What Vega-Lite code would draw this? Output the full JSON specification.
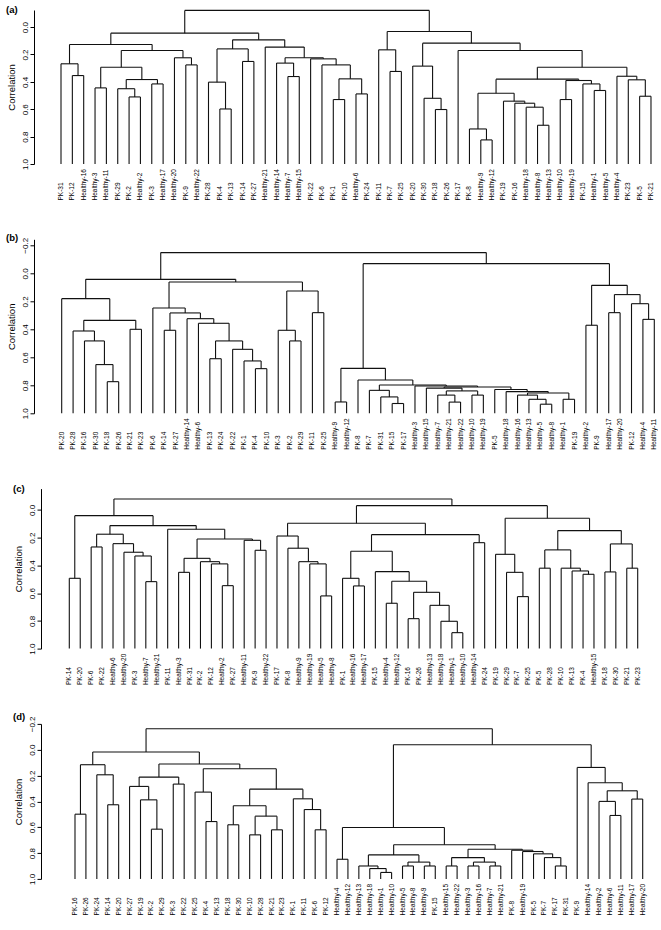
{
"$schema": "https://vega.github.io/schema/vega-lite/v6.json",
"padding": {"left": 6, "top": 5, "right": 0, "bottom": 0},
"config": {
 "view": {"stroke": null},
 "font": "Liberation Sans",
 "axis": {"domainColor": "#000", "tickColor": "#000", "labelColor": "#000", "titleColor": "#000", "labelFont": "Liberation Sans", "titleFont": "Liberation Sans", "labelFontSize": 8, "titleFontSize": 9.5, "titleFontWeight": "normal", "tickSize": 4, "labelPadding": 1, "titlePadding": 5, "grid": false, "domainWidth": 1, "tickWidth": 1, "format": ".1f", "labelOverlap": false, "labelFlush": false, "labelBound": false, "labelSeparation": -30},
 "title": {"font": "Liberation Sans", "fontSize": 9.5, "fontWeight": "bold", "anchor": "start", "frame": "bounds", "offset": -5, "color": "#000"},
 "rule": {"color": "#111", "strokeWidth": 1.1},
 "text": {"color": "#000", "font": "Liberation Sans", "fontSize": 6.5}
},
"datasets": {
 "merges_a": [
  {"lx":2,"lh":1,"rx":3,"rh":1,"h":0.354},
  {"lx":1,"lh":1,"rx":2.5,"rh":0.354,"h":0.268},
  {"lx":4,"lh":1,"rx":5,"rh":1,"h":0.444},
  {"lx":7,"lh":1,"rx":8,"rh":1,"h":0.51},
  {"lx":6,"lh":1,"rx":7.5,"rh":0.51,"h":0.45},
  {"lx":9,"lh":1,"rx":10,"rh":1,"h":0.415},
  {"lx":6.75,"lh":0.45,"rx":9.5,"rh":0.415,"h":0.383},
  {"lx":4.5,"lh":0.444,"rx":8.125,"rh":0.383,"h":0.293},
  {"lx":12,"lh":1,"rx":13,"rh":1,"h":0.276},
  {"lx":11,"lh":1,"rx":12.5,"rh":0.276,"h":0.224},
  {"lx":6.313,"lh":0.293,"rx":11.75,"rh":0.224,"h":0.171},
  {"lx":1.75,"lh":0.268,"rx":9.031,"rh":0.171,"h":0.127},
  {"lx":15,"lh":1,"rx":16,"rh":1,"h":0.598},
  {"lx":14,"lh":1,"rx":15.5,"rh":0.598,"h":0.402},
  {"lx":17,"lh":1,"rx":18,"rh":1,"h":0.251},
  {"lx":14.75,"lh":0.402,"rx":17.5,"rh":0.251,"h":0.159},
  {"lx":21,"lh":1,"rx":22,"rh":1,"h":0.361},
  {"lx":20,"lh":1,"rx":21.5,"rh":0.361,"h":0.263},
  {"lx":25,"lh":1,"rx":26,"rh":1,"h":0.529},
  {"lx":27,"lh":1,"rx":28,"rh":1,"h":0.488},
  {"lx":25.5,"lh":0.529,"rx":27.5,"rh":0.488,"h":0.378},
  {"lx":24,"lh":1,"rx":26.5,"rh":0.378,"h":0.276},
  {"lx":23,"lh":1,"rx":25.25,"rh":0.276,"h":0.232},
  {"lx":20.75,"lh":0.263,"rx":24.125,"rh":0.232,"h":0.224},
  {"lx":19,"lh":1,"rx":22.438,"rh":0.224,"h":0.146},
  {"lx":16.125,"lh":0.159,"rx":20.719,"rh":0.146,"h":0.093},
  {"lx":5.391,"lh":0.127,"rx":18.422,"rh":0.093,"h":0.044},
  {"lx":30,"lh":1,"rx":31,"rh":1,"h":0.324},
  {"lx":29,"lh":1,"rx":30.5,"rh":0.324,"h":0.166},
  {"lx":34,"lh":1,"rx":35,"rh":1,"h":0.602},
  {"lx":33,"lh":1,"rx":34.5,"rh":0.602,"h":0.52},
  {"lx":32,"lh":1,"rx":33.75,"rh":0.52,"h":0.285},
  {"lx":38,"lh":1,"rx":39,"rh":1,"h":0.824},
  {"lx":37,"lh":1,"rx":38.5,"rh":0.824,"h":0.744},
  {"lx":43,"lh":1,"rx":44,"rh":1,"h":0.717},
  {"lx":42,"lh":1,"rx":43.5,"rh":0.717,"h":0.585},
  {"lx":41,"lh":1,"rx":42.75,"rh":0.585,"h":0.556},
  {"lx":40,"lh":1,"rx":41.875,"rh":0.556,"h":0.541},
  {"lx":37.75,"lh":0.744,"rx":40.938,"rh":0.541,"h":0.483},
  {"lx":45,"lh":1,"rx":46,"rh":1,"h":0.529},
  {"lx":48,"lh":1,"rx":49,"rh":1,"h":0.463},
  {"lx":47,"lh":1,"rx":48.5,"rh":0.463,"h":0.415},
  {"lx":45.5,"lh":0.529,"rx":47.75,"rh":0.415,"h":0.39},
  {"lx":39.344,"lh":0.483,"rx":46.625,"rh":0.39,"h":0.38},
  {"lx":52,"lh":1,"rx":53,"rh":1,"h":0.505},
  {"lx":51,"lh":1,"rx":52.5,"rh":0.505,"h":0.385},
  {"lx":50,"lh":1,"rx":51.75,"rh":0.385,"h":0.359},
  {"lx":42.984,"lh":0.38,"rx":50.875,"rh":0.359,"h":0.293},
  {"lx":36,"lh":1,"rx":46.93,"rh":0.293,"h":0.171},
  {"lx":32.875,"lh":0.285,"rx":41.465,"rh":0.171,"h":0.117},
  {"lx":29.75,"lh":0.166,"rx":37.17,"rh":0.117,"h":0.032},
  {"lx":11.906,"lh":0.044,"rx":33.46,"rh":0.032,"h":-0.122}
 ],
 "merges_b": [
  {"lx":5,"lh":1,"rx":6,"rh":1,"h":0.774},
  {"lx":4,"lh":1,"rx":5.5,"rh":0.774,"h":0.652},
  {"lx":3,"lh":1,"rx":4.75,"rh":0.652,"h":0.483},
  {"lx":2,"lh":1,"rx":3.875,"rh":0.483,"h":0.412},
  {"lx":7,"lh":1,"rx":8,"rh":1,"h":0.4},
  {"lx":2.938,"lh":0.412,"rx":7.5,"rh":0.4,"h":0.336},
  {"lx":1,"lh":1,"rx":5.219,"rh":0.336,"h":0.181},
  {"lx":10,"lh":1,"rx":11,"rh":1,"h":0.407},
  {"lx":14,"lh":1,"rx":15,"rh":1,"h":0.61},
  {"lx":18,"lh":1,"rx":19,"rh":1,"h":0.681},
  {"lx":17,"lh":1,"rx":18.5,"rh":0.681,"h":0.626},
  {"lx":16,"lh":1,"rx":17.75,"rh":0.626,"h":0.543},
  {"lx":14.5,"lh":0.61,"rx":16.875,"rh":0.543,"h":0.483},
  {"lx":13,"lh":1,"rx":15.688,"rh":0.483,"h":0.357},
  {"lx":12,"lh":1,"rx":14.344,"rh":0.357,"h":0.324},
  {"lx":10.5,"lh":0.407,"rx":13.172,"rh":0.324,"h":0.283},
  {"lx":9,"lh":1,"rx":11.836,"rh":0.283,"h":0.248},
  {"lx":21,"lh":1,"rx":22,"rh":1,"h":0.483},
  {"lx":20,"lh":1,"rx":21.5,"rh":0.483,"h":0.407},
  {"lx":23,"lh":1,"rx":24,"rh":1,"h":0.281},
  {"lx":20.75,"lh":0.407,"rx":23.5,"rh":0.281,"h":0.126},
  {"lx":10.418,"lh":0.248,"rx":22.125,"rh":0.126,"h":0.062},
  {"lx":3.109,"lh":0.181,"rx":16.272,"rh":0.062,"h":0.043},
  {"lx":25,"lh":1,"rx":26,"rh":1,"h":0.919},
  {"lx":30,"lh":1,"rx":31,"rh":1,"h":0.93},
  {"lx":29,"lh":1,"rx":30.5,"rh":0.93,"h":0.883},
  {"lx":28,"lh":1,"rx":29.75,"rh":0.883,"h":0.836},
  {"lx":35,"lh":1,"rx":36,"rh":1,"h":0.92},
  {"lx":34,"lh":1,"rx":35.5,"rh":0.92,"h":0.87},
  {"lx":37,"lh":1,"rx":38,"rh":1,"h":0.87},
  {"lx":34.75,"lh":0.87,"rx":37.5,"rh":0.87,"h":0.84},
  {"lx":33,"lh":1,"rx":36.125,"rh":0.84,"h":0.82},
  {"lx":43,"lh":1,"rx":44,"rh":1,"h":0.935},
  {"lx":42,"lh":1,"rx":43.5,"rh":0.935,"h":0.9},
  {"lx":41,"lh":1,"rx":42.75,"rh":0.9,"h":0.87},
  {"lx":45,"lh":1,"rx":46,"rh":1,"h":0.9},
  {"lx":41.875,"lh":0.87,"rx":45.5,"rh":0.9,"h":0.855},
  {"lx":40,"lh":1,"rx":43.688,"rh":0.855,"h":0.845},
  {"lx":39,"lh":1,"rx":41.844,"rh":0.845,"h":0.83},
  {"lx":34.563,"lh":0.82,"rx":40.422,"rh":0.83,"h":0.812},
  {"lx":32,"lh":1,"rx":37.492,"rh":0.812,"h":0.805},
  {"lx":28.875,"lh":0.836,"rx":34.746,"rh":0.805,"h":0.798},
  {"lx":27,"lh":1,"rx":31.811,"rh":0.798,"h":0.762},
  {"lx":25.5,"lh":0.919,"rx":29.405,"rh":0.762,"h":0.679},
  {"lx":47,"lh":1,"rx":48,"rh":1,"h":0.371},
  {"lx":49,"lh":1,"rx":50,"rh":1,"h":0.281},
  {"lx":52,"lh":1,"rx":53,"rh":1,"h":0.329},
  {"lx":51,"lh":1,"rx":52.5,"rh":0.329,"h":0.217},
  {"lx":49.5,"lh":0.281,"rx":51.75,"rh":0.217,"h":0.152},
  {"lx":47.5,"lh":0.371,"rx":50.625,"rh":0.152,"h":0.086},
  {"lx":27.453,"lh":0.679,"rx":49.063,"rh":0.086,"h":-0.069},
  {"lx":9.69,"lh":0.043,"rx":38.258,"rh":-0.069,"h":-0.148}
 ],
 "merges_c": [
  {"lx":1,"lh":1,"rx":2,"rh":1,"h":0.493},
  {"lx":3,"lh":1,"rx":4,"rh":1,"h":0.267},
  {"lx":8,"lh":1,"rx":9,"rh":1,"h":0.517},
  {"lx":7,"lh":1,"rx":8.5,"rh":0.517,"h":0.332},
  {"lx":6,"lh":1,"rx":7.75,"rh":0.332,"h":0.305},
  {"lx":5,"lh":1,"rx":6.875,"rh":0.305,"h":0.243},
  {"lx":3.5,"lh":0.267,"rx":5.938,"rh":0.243,"h":0.175},
  {"lx":11,"lh":1,"rx":12,"rh":1,"h":0.45},
  {"lx":15,"lh":1,"rx":16,"rh":1,"h":0.546},
  {"lx":14,"lh":1,"rx":15.5,"rh":0.546,"h":0.389},
  {"lx":13,"lh":1,"rx":14.75,"rh":0.389,"h":0.373},
  {"lx":11.5,"lh":0.45,"rx":13.875,"rh":0.373,"h":0.349},
  {"lx":18,"lh":1,"rx":19,"rh":1,"h":0.291},
  {"lx":17,"lh":1,"rx":18.5,"rh":0.291,"h":0.219},
  {"lx":12.688,"lh":0.349,"rx":17.75,"rh":0.219,"h":0.209},
  {"lx":10,"lh":1,"rx":15.219,"rh":0.209,"h":0.139},
  {"lx":4.719,"lh":0.175,"rx":12.61,"rh":0.139,"h":0.113},
  {"lx":1.5,"lh":0.493,"rx":8.664,"rh":0.113,"h":0.041},
  {"lx":24,"lh":1,"rx":25,"rh":1,"h":0.62},
  {"lx":23,"lh":1,"rx":24.5,"rh":0.62,"h":0.389},
  {"lx":22,"lh":1,"rx":23.75,"rh":0.389,"h":0.373},
  {"lx":21,"lh":1,"rx":22.875,"rh":0.373,"h":0.276},
  {"lx":20,"lh":1,"rx":21.938,"rh":0.276,"h":0.188},
  {"lx":27,"lh":1,"rx":28,"rh":1,"h":0.548},
  {"lx":26,"lh":1,"rx":27.5,"rh":0.548,"h":0.493},
  {"lx":30,"lh":1,"rx":31,"rh":1,"h":0.673},
  {"lx":32,"lh":1,"rx":33,"rh":1,"h":0.784},
  {"lx":36,"lh":1,"rx":37,"rh":1,"h":0.885},
  {"lx":35,"lh":1,"rx":36.5,"rh":0.885,"h":0.803},
  {"lx":34,"lh":1,"rx":35.75,"rh":0.803,"h":0.688},
  {"lx":32.5,"lh":0.784,"rx":34.875,"rh":0.688,"h":0.594},
  {"lx":30.5,"lh":0.673,"rx":33.688,"rh":0.594,"h":0.514},
  {"lx":29,"lh":1,"rx":32.094,"rh":0.514,"h":0.445},
  {"lx":26.75,"lh":0.493,"rx":30.547,"rh":0.445,"h":0.298},
  {"lx":38,"lh":1,"rx":39,"rh":1,"h":0.236},
  {"lx":28.648,"lh":0.298,"rx":38.5,"rh":0.236,"h":0.178},
  {"lx":20.969,"lh":0.188,"rx":33.574,"rh":0.178,"h":0.096},
  {"lx":42,"lh":1,"rx":43,"rh":1,"h":0.625},
  {"lx":41,"lh":1,"rx":42.5,"rh":0.625,"h":0.45},
  {"lx":40,"lh":1,"rx":41.75,"rh":0.45,"h":0.32},
  {"lx":44,"lh":1,"rx":45,"rh":1,"h":0.42},
  {"lx":48,"lh":1,"rx":49,"rh":1,"h":0.464},
  {"lx":47,"lh":1,"rx":48.5,"rh":0.464,"h":0.44},
  {"lx":46,"lh":1,"rx":47.75,"rh":0.44,"h":0.42},
  {"lx":44.5,"lh":0.42,"rx":46.875,"rh":0.42,"h":0.288},
  {"lx":50,"lh":1,"rx":51,"rh":1,"h":0.447},
  {"lx":52,"lh":1,"rx":53,"rh":1,"h":0.42},
  {"lx":50.5,"lh":0.447,"rx":52.5,"rh":0.42,"h":0.245},
  {"lx":45.688,"lh":0.288,"rx":51.5,"rh":0.245,"h":0.149},
  {"lx":40.875,"lh":0.32,"rx":48.594,"rh":0.149,"h":0.06},
  {"lx":27.271,"lh":0.096,"rx":44.734,"rh":0.06,"h":-0.031},
  {"lx":5.082,"lh":0.041,"rx":36.003,"rh":-0.031,"h":-0.079}
 ],
 "merges_d": [
  {"lx":1,"lh":1,"rx":2,"rh":1,"h":0.499},
  {"lx":4,"lh":1,"rx":5,"rh":1,"h":0.426},
  {"lx":3,"lh":1,"rx":4.5,"rh":0.426,"h":0.194},
  {"lx":1.5,"lh":0.499,"rx":3.75,"rh":0.194,"h":0.116},
  {"lx":8,"lh":1,"rx":9,"rh":1,"h":0.615},
  {"lx":7,"lh":1,"rx":8.5,"rh":0.615,"h":0.388},
  {"lx":6,"lh":1,"rx":7.75,"rh":0.388,"h":0.284},
  {"lx":10,"lh":1,"rx":11,"rh":1,"h":0.266},
  {"lx":6.875,"lh":0.284,"rx":10.5,"rh":0.266,"h":0.212},
  {"lx":13,"lh":1,"rx":14,"rh":1,"h":0.556},
  {"lx":12,"lh":1,"rx":13.5,"rh":0.556,"h":0.328},
  {"lx":15,"lh":1,"rx":16,"rh":1,"h":0.581},
  {"lx":17,"lh":1,"rx":18,"rh":1,"h":0.659},
  {"lx":19,"lh":1,"rx":20,"rh":1,"h":0.62},
  {"lx":17.5,"lh":0.659,"rx":19.5,"rh":0.62,"h":0.514},
  {"lx":15.5,"lh":0.581,"rx":18.5,"rh":0.514,"h":0.434},
  {"lx":23,"lh":1,"rx":24,"rh":1,"h":0.62},
  {"lx":22,"lh":1,"rx":23.5,"rh":0.62,"h":0.463},
  {"lx":21,"lh":1,"rx":22.75,"rh":0.463,"h":0.38},
  {"lx":17,"lh":0.434,"rx":21.875,"rh":0.38,"h":0.305},
  {"lx":12.75,"lh":0.328,"rx":19.438,"rh":0.305,"h":0.147},
  {"lx":8.688,"lh":0.212,"rx":16.094,"rh":0.147,"h":0.111},
  {"lx":2.625,"lh":0.116,"rx":12.391,"rh":0.111,"h":0.018},
  {"lx":50,"lh":1,"rx":51,"rh":1,"h":0.509},
  {"lx":49,"lh":1,"rx":50.5,"rh":0.509,"h":0.4},
  {"lx":52,"lh":1,"rx":53,"rh":1,"h":0.382},
  {"lx":49.75,"lh":0.4,"rx":52.5,"rh":0.382,"h":0.318},
  {"lx":48,"lh":1,"rx":51.125,"rh":0.318,"h":0.256},
  {"lx":47,"lh":1,"rx":49.563,"rh":0.256,"h":0.137},
  {"lx":25,"lh":1,"rx":26,"rh":1,"h":0.848},
  {"lx":29,"lh":1,"rx":30,"rh":1,"h":0.95},
  {"lx":28,"lh":1,"rx":29.5,"rh":0.95,"h":0.92},
  {"lx":27,"lh":1,"rx":28.75,"rh":0.92,"h":0.9},
  {"lx":31,"lh":1,"rx":32,"rh":1,"h":0.9},
  {"lx":33,"lh":1,"rx":34,"rh":1,"h":0.9},
  {"lx":31.5,"lh":0.9,"rx":33.5,"rh":0.9,"h":0.87},
  {"lx":27.875,"lh":0.9,"rx":32.5,"rh":0.87,"h":0.814},
  {"lx":35,"lh":1,"rx":36,"rh":1,"h":0.9},
  {"lx":37,"lh":1,"rx":38,"rh":1,"h":0.9},
  {"lx":39,"lh":1,"rx":40,"rh":1,"h":0.9},
  {"lx":37.5,"lh":0.9,"rx":39.5,"rh":0.9,"h":0.87},
  {"lx":35.5,"lh":0.9,"rx":38.5,"rh":0.87,"h":0.835},
  {"lx":45,"lh":1,"rx":46,"rh":1,"h":0.9},
  {"lx":44,"lh":1,"rx":45.5,"rh":0.9,"h":0.835},
  {"lx":43,"lh":1,"rx":44.75,"rh":0.835,"h":0.806},
  {"lx":42,"lh":1,"rx":43.875,"rh":0.806,"h":0.788},
  {"lx":41,"lh":1,"rx":42.938,"rh":0.788,"h":0.778},
  {"lx":37,"lh":0.835,"rx":41.969,"rh":0.778,"h":0.77},
  {"lx":30.188,"lh":0.814,"rx":39.484,"rh":0.77,"h":0.736},
  {"lx":25.5,"lh":0.848,"rx":34.836,"rh":0.736,"h":0.602},
  {"lx":30.168,"lh":0.602,"rx":48.281,"rh":0.137,"h":-0.039},
  {"lx":7.508,"lh":0.018,"rx":39.225,"rh":-0.039,"h":-0.163}
 ],
 "leaves_a": [
  {"i":1,"name":"PK-31"},{"i":2,"name":"PK-12"},{"i":3,"name":"Healthy-16"},{"i":4,"name":"Healthy-3"},{"i":5,"name":"Healthy-11"},{"i":6,"name":"PK-29"},{"i":7,"name":"PK-2"},{"i":8,"name":"Healthy-2"},{"i":9,"name":"PK-3"},{"i":10,"name":"Healthy-17"},{"i":11,"name":"Healthy-20"},{"i":12,"name":"PK-9"},{"i":13,"name":"Healthy-22"},{"i":14,"name":"PK-28"},{"i":15,"name":"PK-4"},{"i":16,"name":"PK-13"},{"i":17,"name":"PK-14"},{"i":18,"name":"PK-27"},{"i":19,"name":"Healthy-21"},{"i":20,"name":"Healthy-14"},{"i":21,"name":"Healthy-7"},{"i":22,"name":"Healthy-15"},{"i":23,"name":"PK-22"},{"i":24,"name":"PK-6"},{"i":25,"name":"PK-1"},{"i":26,"name":"PK-10"},{"i":27,"name":"Healthy-6"},{"i":28,"name":"PK-24"},{"i":29,"name":"PK-11"},{"i":30,"name":"PK-7"},{"i":31,"name":"PK-25"},{"i":32,"name":"PK-20"},{"i":33,"name":"PK-30"},{"i":34,"name":"PK-18"},{"i":35,"name":"PK-26"},{"i":36,"name":"PK-17"},{"i":37,"name":"PK-8"},{"i":38,"name":"Healthy-9"},{"i":39,"name":"Healthy-12"},{"i":40,"name":"PK-19"},{"i":41,"name":"PK-16"},{"i":42,"name":"Healthy-18"},{"i":43,"name":"Healthy-8"},{"i":44,"name":"Healthy-13"},{"i":45,"name":"Healthy-10"},{"i":46,"name":"Healthy-19"},{"i":47,"name":"PK-15"},{"i":48,"name":"Healthy-1"},{"i":49,"name":"Healthy-5"},{"i":50,"name":"Healthy-4"},{"i":51,"name":"PK-23"},{"i":52,"name":"PK-5"},{"i":53,"name":"PK-21"}
 ],
 "leaves_b": [
  {"i":1,"name":"PK-20"},{"i":2,"name":"PK-28"},{"i":3,"name":"PK-16"},{"i":4,"name":"PK-30"},{"i":5,"name":"PK-18"},{"i":6,"name":"PK-26"},{"i":7,"name":"PK-21"},{"i":8,"name":"PK-23"},{"i":9,"name":"PK-6"},{"i":10,"name":"PK-14"},{"i":11,"name":"PK-27"},{"i":12,"name":"Healthy-14"},{"i":13,"name":"Healthy-6"},{"i":14,"name":"PK-13"},{"i":15,"name":"PK-24"},{"i":16,"name":"PK-22"},{"i":17,"name":"PK-1"},{"i":18,"name":"PK-4"},{"i":19,"name":"PK-10"},{"i":20,"name":"PK-3"},{"i":21,"name":"PK-2"},{"i":22,"name":"PK-29"},{"i":23,"name":"PK-11"},{"i":24,"name":"PK-25"},{"i":25,"name":"Healthy-9"},{"i":26,"name":"Healthy-12"},{"i":27,"name":"PK-8"},{"i":28,"name":"PK-7"},{"i":29,"name":"PK-31"},{"i":30,"name":"PK-15"},{"i":31,"name":"PK-17"},{"i":32,"name":"Healthy-3"},{"i":33,"name":"Healthy-15"},{"i":34,"name":"Healthy-7"},{"i":35,"name":"Healthy-21"},{"i":36,"name":"Healthy-22"},{"i":37,"name":"Healthy-10"},{"i":38,"name":"Healthy-19"},{"i":39,"name":"PK-5"},{"i":40,"name":"Healthy-18"},{"i":41,"name":"Healthy-16"},{"i":42,"name":"Healthy-13"},{"i":43,"name":"Healthy-5"},{"i":44,"name":"Healthy-8"},{"i":45,"name":"Healthy-1"},{"i":46,"name":"PK-19"},{"i":47,"name":"Healthy-2"},{"i":48,"name":"PK-9"},{"i":49,"name":"Healthy-17"},{"i":50,"name":"Healthy-20"},{"i":51,"name":"PK-12"},{"i":52,"name":"Healthy-4"},{"i":53,"name":"Healthy-11"}
 ],
 "leaves_c": [
  {"i":1,"name":"PK-14"},{"i":2,"name":"PK-20"},{"i":3,"name":"PK-6"},{"i":4,"name":"PK-22"},{"i":5,"name":"Healthy-6"},{"i":6,"name":"Healthy-20"},{"i":7,"name":"PK-3"},{"i":8,"name":"Healthy-7"},{"i":9,"name":"Healthy-21"},{"i":10,"name":"PK-11"},{"i":11,"name":"Healthy-3"},{"i":12,"name":"PK-31"},{"i":13,"name":"PK-2"},{"i":14,"name":"PK-12"},{"i":15,"name":"Healthy-2"},{"i":16,"name":"PK-27"},{"i":17,"name":"Healthy-11"},{"i":18,"name":"PK-9"},{"i":19,"name":"Healthy-22"},{"i":20,"name":"PK-17"},{"i":21,"name":"PK-8"},{"i":22,"name":"Healthy-9"},{"i":23,"name":"Healthy-19"},{"i":24,"name":"Healthy-5"},{"i":25,"name":"Healthy-8"},{"i":26,"name":"PK-1"},{"i":27,"name":"Healthy-16"},{"i":28,"name":"Healthy-17"},{"i":29,"name":"PK-15"},{"i":30,"name":"Healthy-4"},{"i":31,"name":"Healthy-12"},{"i":32,"name":"PK-16"},{"i":33,"name":"PK-26"},{"i":34,"name":"Healthy-13"},{"i":35,"name":"Healthy-18"},{"i":36,"name":"Healthy-1"},{"i":37,"name":"Healthy-10"},{"i":38,"name":"Healthy-14"},{"i":39,"name":"PK-24"},{"i":40,"name":"PK-19"},{"i":41,"name":"PK-29"},{"i":42,"name":"PK-7"},{"i":43,"name":"PK-25"},{"i":44,"name":"PK-5"},{"i":45,"name":"PK-28"},{"i":46,"name":"PK-10"},{"i":47,"name":"PK-13"},{"i":48,"name":"PK-4"},{"i":49,"name":"Healthy-15"},{"i":50,"name":"PK-18"},{"i":51,"name":"PK-30"},{"i":52,"name":"PK-21"},{"i":53,"name":"PK-23"}
 ],
 "leaves_d": [
  {"i":1,"name":"PK-16"},{"i":2,"name":"PK-26"},{"i":3,"name":"PK-24"},{"i":4,"name":"PK-14"},{"i":5,"name":"PK-20"},{"i":6,"name":"PK-27"},{"i":7,"name":"PK-19"},{"i":8,"name":"PK-2"},{"i":9,"name":"PK-29"},{"i":10,"name":"PK-3"},{"i":11,"name":"PK-22"},{"i":12,"name":"PK-25"},{"i":13,"name":"PK-4"},{"i":14,"name":"PK-13"},{"i":15,"name":"PK-18"},{"i":16,"name":"PK-30"},{"i":17,"name":"PK-10"},{"i":18,"name":"PK-28"},{"i":19,"name":"PK-21"},{"i":20,"name":"PK-23"},{"i":21,"name":"PK-1"},{"i":22,"name":"PK-11"},{"i":23,"name":"PK-6"},{"i":24,"name":"PK-12"},{"i":25,"name":"Healthy-4"},{"i":26,"name":"Healthy-12"},{"i":27,"name":"Healthy-13"},{"i":28,"name":"Healthy-18"},{"i":29,"name":"Healthy-1"},{"i":30,"name":"Healthy-10"},{"i":31,"name":"Healthy-5"},{"i":32,"name":"Healthy-8"},{"i":33,"name":"Healthy-9"},{"i":34,"name":"PK-15"},{"i":35,"name":"Healthy-15"},{"i":36,"name":"Healthy-22"},{"i":37,"name":"Healthy-3"},{"i":38,"name":"Healthy-16"},{"i":39,"name":"Healthy-7"},{"i":40,"name":"Healthy-21"},{"i":41,"name":"PK-8"},{"i":42,"name":"Healthy-19"},{"i":43,"name":"PK-5"},{"i":44,"name":"PK-7"},{"i":45,"name":"PK-17"},{"i":46,"name":"PK-31"},{"i":47,"name":"PK-9"},{"i":48,"name":"Healthy-14"},{"i":49,"name":"Healthy-2"},{"i":50,"name":"Healthy-6"},{"i":51,"name":"Healthy-11"},{"i":52,"name":"Healthy-17"},{"i":53,"name":"Healthy-20"}
 ]
},
"bounds": "flush",
"spacing": 75.3,
"vconcat": [
 {
  "width": 616, "height": 154,
  "title": {"text": "(a)"},
  "data": {"name": "merges_a"},
  "layer": [
   {"mark": {"type": "rule"}, "encoding": {
     "x": {"field": "lx", "type": "quantitative", "scale": {"domain": [-0.763, 53.53], "nice": false, "zero": false}, "axis": null},
     "x2": {"field": "rx"},
     "y": {"field": "h", "type": "quantitative", "title": "Correlation", "scale": {"domain": [-0.125, 1], "reverse": true, "nice": false, "zero": false}, "axis": {"values": [0, 0.2, 0.4, 0.6, 0.8, 1], "offset": 7, "labelOverlap": false, "labelAngle": 270, "labelAlign": "center", "labelBaseline": "bottom"}}}},
   {"mark": {"type": "rule"}, "encoding": {
     "x": {"field": "lx", "type": "quantitative", "axis": null},
     "y": {"field": "lh", "type": "quantitative", "title": "Correlation", "axis": {"values": [0, 0.2, 0.4, 0.6, 0.8, 1], "offset": 7, "labelOverlap": false, "labelAngle": 270, "labelAlign": "center", "labelBaseline": "bottom"}},
     "y2": {"field": "h"}}},
   {"mark": {"type": "rule"}, "encoding": {
     "x": {"field": "rx", "type": "quantitative", "axis": null},
     "y": {"field": "rh", "type": "quantitative", "title": "Correlation", "axis": {"values": [0, 0.2, 0.4, 0.6, 0.8, 1], "offset": 7, "labelOverlap": false, "labelAngle": 270, "labelAlign": "center", "labelBaseline": "bottom"}},
     "y2": {"field": "h"}}},
   {"data": {"name": "leaves_a"}, "mark": {"type": "text", "angle": 270, "align": "left", "baseline": "middle", "dx": -36.5},
    "encoding": {
     "x": {"field": "i", "type": "quantitative", "axis": null},
     "y": {"datum": 1, "type": "quantitative", "title": "Correlation", "axis": {"values": [0, 0.2, 0.4, 0.6, 0.8, 1], "offset": 7, "labelOverlap": false, "labelAngle": 270, "labelAlign": "center", "labelBaseline": "bottom"}},
     "text": {"field": "name"}}}
  ]
 },
 {
  "width": 616, "height": 174,
  "title": {"text": "(b)"},
  "data": {"name": "merges_b"},
  "layer": [
   {"mark": {"type": "rule"}, "encoding": {
     "x": {"field": "lx", "type": "quantitative", "scale": {"domain": [-0.816, 53.237], "nice": false, "zero": false}, "axis": null},
     "x2": {"field": "rx"},
     "y": {"field": "h", "type": "quantitative", "title": "Correlation", "scale": {"domain": [-0.243, 1], "reverse": true, "nice": false, "zero": false}, "axis": {"values": [-0.2, 0, 0.2, 0.4, 0.6, 0.8, 1], "offset": 7, "labelOverlap": false, "labelAngle": 270, "labelAlign": "center", "labelBaseline": "bottom"}}}},
   {"mark": {"type": "rule"}, "encoding": {
     "x": {"field": "lx", "type": "quantitative", "axis": null},
     "y": {"field": "lh", "type": "quantitative", "title": "Correlation", "axis": {"values": [-0.2, 0, 0.2, 0.4, 0.6, 0.8, 1], "offset": 7, "labelOverlap": false, "labelAngle": 270, "labelAlign": "center", "labelBaseline": "bottom"}},
     "y2": {"field": "h"}}},
   {"mark": {"type": "rule"}, "encoding": {
     "x": {"field": "rx", "type": "quantitative", "axis": null},
     "y": {"field": "rh", "type": "quantitative", "title": "Correlation", "axis": {"values": [-0.2, 0, 0.2, 0.4, 0.6, 0.8, 1], "offset": 7, "labelOverlap": false, "labelAngle": 270, "labelAlign": "center", "labelBaseline": "bottom"}},
     "y2": {"field": "h"}}},
   {"data": {"name": "leaves_b"}, "mark": {"type": "text", "angle": 270, "align": "left", "baseline": "middle", "dx": -36.5},
    "encoding": {
     "x": {"field": "i", "type": "quantitative", "axis": null},
     "y": {"datum": 1, "type": "quantitative", "title": "Correlation", "axis": {"values": [-0.2, 0, 0.2, 0.4, 0.6, 0.8, 1], "offset": 7, "labelOverlap": false, "labelAngle": 270, "labelAlign": "center", "labelBaseline": "bottom"}},
     "text": {"field": "name"}}}
  ]
 },
 {
  "width": 616, "height": 160,
  "title": {"text": "(c)"},
  "data": {"name": "merges_c"},
  "layer": [
   {"mark": {"type": "rule"}, "encoding": {
     "x": {"field": "lx", "type": "quantitative", "scale": {"domain": [-1.589, 54.766], "nice": false, "zero": false}, "axis": null},
     "x2": {"field": "rx"},
     "y": {"field": "h", "type": "quantitative", "title": "Correlation", "scale": {"domain": [-0.154, 1], "reverse": true, "nice": false, "zero": false}, "axis": {"values": [0, 0.2, 0.4, 0.6, 0.8, 1], "labelOverlap": false, "labelAngle": 270, "labelAlign": "center", "labelBaseline": "bottom"}}}},
   {"mark": {"type": "rule"}, "encoding": {
     "x": {"field": "lx", "type": "quantitative", "axis": null},
     "y": {"field": "lh", "type": "quantitative", "title": "Correlation", "axis": {"values": [0, 0.2, 0.4, 0.6, 0.8, 1], "labelOverlap": false, "labelAngle": 270, "labelAlign": "center", "labelBaseline": "bottom"}},
     "y2": {"field": "h"}}},
   {"mark": {"type": "rule"}, "encoding": {
     "x": {"field": "rx", "type": "quantitative", "axis": null},
     "y": {"field": "rh", "type": "quantitative", "title": "Correlation", "axis": {"values": [0, 0.2, 0.4, 0.6, 0.8, 1], "labelOverlap": false, "labelAngle": 270, "labelAlign": "center", "labelBaseline": "bottom"}},
     "y2": {"field": "h"}}},
   {"data": {"name": "leaves_c"}, "mark": {"type": "text", "angle": 270, "align": "left", "baseline": "middle", "dx": -36.5},
    "encoding": {
     "x": {"field": "i", "type": "quantitative", "axis": null},
     "y": {"datum": 1, "type": "quantitative", "title": "Correlation", "axis": {"values": [0, 0.2, 0.4, 0.6, 0.8, 1], "labelOverlap": false, "labelAngle": 270, "labelAlign": "center", "labelBaseline": "bottom"}},
     "text": {"field": "name"}}}
  ]
 },
 {
  "width": 616, "height": 155,
  "title": {"text": "(d)"},
  "data": {"name": "merges_d"},
  "layer": [
   {"mark": {"type": "rule"}, "encoding": {
     "x": {"field": "lx", "type": "quantitative", "scale": {"domain": [-2.114, 54.31], "nice": false, "zero": false}, "axis": null},
     "x2": {"field": "rx"},
     "y": {"field": "h", "type": "quantitative", "title": "Correlation", "scale": {"domain": [-0.2, 1], "reverse": true, "nice": false, "zero": false}, "axis": {"values": [-0.2, 0, 0.2, 0.4, 0.6, 0.8, 1], "labelOverlap": false, "labelAngle": 270, "labelAlign": "center", "labelBaseline": "bottom"}}}},
   {"mark": {"type": "rule"}, "encoding": {
     "x": {"field": "lx", "type": "quantitative", "axis": null},
     "y": {"field": "lh", "type": "quantitative", "title": "Correlation", "axis": {"values": [-0.2, 0, 0.2, 0.4, 0.6, 0.8, 1], "labelOverlap": false, "labelAngle": 270, "labelAlign": "center", "labelBaseline": "bottom"}},
     "y2": {"field": "h"}}},
   {"mark": {"type": "rule"}, "encoding": {
     "x": {"field": "rx", "type": "quantitative", "axis": null},
     "y": {"field": "rh", "type": "quantitative", "title": "Correlation", "axis": {"values": [-0.2, 0, 0.2, 0.4, 0.6, 0.8, 1], "labelOverlap": false, "labelAngle": 270, "labelAlign": "center", "labelBaseline": "bottom"}},
     "y2": {"field": "h"}}},
   {"data": {"name": "leaves_d"}, "mark": {"type": "text", "angle": 270, "align": "left", "baseline": "middle", "dx": -36.5},
    "encoding": {
     "x": {"field": "i", "type": "quantitative", "axis": null},
     "y": {"datum": 1, "type": "quantitative", "title": "Correlation", "axis": {"values": [-0.2, 0, 0.2, 0.4, 0.6, 0.8, 1], "labelOverlap": false, "labelAngle": 270, "labelAlign": "center", "labelBaseline": "bottom"}},
     "text": {"field": "name"}}}
  ]
 }
]
}
